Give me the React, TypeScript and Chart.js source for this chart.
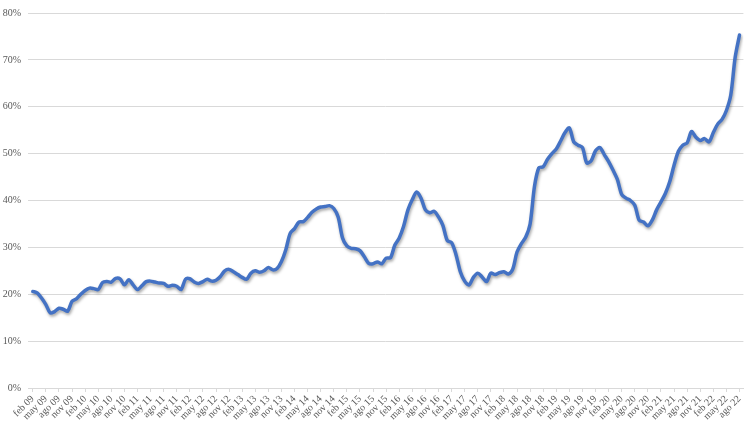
import React, { useEffect, useRef } from "react";
import { Chart, registerables } from "chart.js";

Chart.register(...registerables);

// Monthly values (%) from feb 09 to ago 22
const values: number[] = [
  20.6, 20.3, 19.2, 17.8, 16.0, 16.3, 17.0, 16.8, 16.4, 18.5, 19.0, 20.0,
  20.8, 21.3, 21.2, 21.0, 22.5, 22.7, 22.6, 23.4, 23.3, 22.0, 23.1, 22.0,
  21.0, 21.8, 22.7, 22.8, 22.6, 22.4, 22.3, 21.7, 21.9, 21.7, 21.0, 23.2,
  23.3, 22.6, 22.3, 22.7, 23.2, 22.8, 23.0, 23.8, 25.0, 25.3, 24.8, 24.2,
  23.6, 23.2, 24.5, 25.0, 24.7, 25.0, 25.7, 25.2, 25.5, 27.0, 29.5, 33.0,
  34.0, 35.4, 35.5, 36.4, 37.5, 38.2, 38.6, 38.7, 38.9, 38.3, 36.5, 32.0,
  30.3, 29.8, 29.7, 29.3, 28.0, 26.6, 26.5, 26.9, 26.5, 27.7, 27.8, 30.5,
  32.0, 34.5, 38.0, 40.2, 41.8, 40.5, 38.0, 37.4, 37.7, 36.5, 34.7, 31.5,
  31.0, 28.5, 24.8, 22.8, 22.0, 23.6, 24.5, 23.7, 22.7, 24.5, 24.2, 24.6,
  24.8, 24.3, 25.3, 29.0, 30.8, 32.2, 35.0, 43.0, 47.0, 47.2, 48.8, 50.0,
  51.0, 52.7, 54.5, 55.5, 52.5, 51.8, 51.3, 48.0, 48.5, 50.6, 51.3, 49.8,
  48.3, 46.5, 44.5, 41.3, 40.5, 40.0, 39.0, 35.8, 35.4, 34.6, 35.8, 38.0,
  39.7, 41.5, 44.0, 47.5, 50.5, 51.8, 52.3, 54.7, 53.5, 52.8, 53.2, 52.5,
  54.5, 56.3, 57.3, 59.2, 62.5, 70.5, 75.3,
];

// Quarterly tick labels (every 3 months, starting at index 0)
const tickLabels: string[] = [
  "feb 09", "may 09", "ago 09", "nov 09",
  "feb 10", "may 10", "ago 10", "nov 10",
  "feb 11", "may 11", "ago 11", "nov 11",
  "feb 12", "may 12", "ago 12", "nov 12",
  "feb 13", "may 13", "ago 13", "nov 13",
  "feb 14", "may 14", "ago 14", "nov 14",
  "feb 15", "may 15", "ago 15", "nov 15",
  "feb 16", "may 16", "ago 16", "nov 16",
  "feb 17", "may 17", "ago 17", "nov 17",
  "feb 18", "may 18", "ago 18", "nov 18",
  "feb 19", "may 19", "ago 19", "nov 19",
  "feb 20", "may 20", "ago 20", "nov 20",
  "feb 21", "may 21", "ago 21", "nov 21",
  "feb 22", "may 22", "ago 22",
];

const yTicks: number[] = [0, 10, 20, 30, 40, 50, 60, 70, 80];

const shadowPlugin = {
  id: "lineShadow",
  beforeDatasetDraw(chart: any) {
    const ctx = chart.ctx;
    ctx.save();
    ctx.shadowColor = "rgba(0,0,0,0.35)";
    ctx.shadowBlur = 3;
    ctx.shadowOffsetX = 1;
    ctx.shadowOffsetY = 2;
  },
  afterDatasetDraw(chart: any) {
    chart.ctx.restore();
  },
};

export default function App() {
  const canvasRef = useRef<HTMLCanvasElement | null>(null);

  useEffect(() => {
    document.body.style.margin = "0";
    const canvas = canvasRef.current;
    if (!canvas) return;
    const font = { family: "'Liberation Serif', 'Times New Roman', serif", size: 10 };
    const chart = new Chart(canvas, {
      type: "line",
      data: {
        datasets: [
          {
            data: values.map((v, i) => ({ x: i, y: v })),
            borderColor: "#4472C4",
            borderWidth: 3.5,
            pointRadius: 0,
            tension: 0.3,
            fill: false,
            borderCapStyle: "round",
            borderJoinStyle: "round",
          },
        ],
      },
      options: {
        animation: false,
        responsive: false,
        maintainAspectRatio: false,
        layout: { padding: { top: 5, right: 4, left: 0, bottom: 0 } },
        plugins: { legend: { display: false }, tooltip: { enabled: false } },
        scales: {
          x: {
            type: "linear",
            min: -1.1,
            max: 162.9,
            afterBuildTicks: (scale: any) => {
              scale.ticks = tickLabels.map((_, k) => ({ value: k * 3 }));
            },
            afterFit: (scale: any) => {
              scale.height = 34;
            },
            ticks: {
              autoSkip: false,
              minRotation: 45,
              maxRotation: 45,
              padding: 1,
              color: "#595959",
              font,
              callback: (v: any) => {
                const k = Math.round(Number(v) / 3);
                return tickLabels[k] ?? "";
              },
            },
            grid: {
              display: true,
              drawOnChartArea: false,
              drawTicks: true,
              tickLength: 4,
              color: "#d9d9d9",
            },
            border: { display: true, color: "#d9d9d9", width: 1 },
          },
          y: {
            type: "linear",
            min: 0,
            max: 80,
            afterBuildTicks: (scale: any) => {
              scale.ticks = yTicks.map((v) => ({ value: v }));
            },
            afterFit: (scale: any) => {
              scale.width = 28;
            },
            ticks: {
              color: "#595959",
              font,
              padding: 7,
              callback: (v: any) => v + "%",
            },
            grid: {
              color: "#d9d9d9",
              lineWidth: 1,
              drawTicks: false,
            },
            border: { display: false },
          },
        },
      },
      plugins: [shadowPlugin],
    } as any);
    return () => chart.destroy();
  }, []);

  return (
    <div style={{ width: 749, height: 422, background: "#fff" }}>
      <canvas ref={canvasRef} width={749} height={422} style={{ display: "block" }} />
    </div>
  );
}
